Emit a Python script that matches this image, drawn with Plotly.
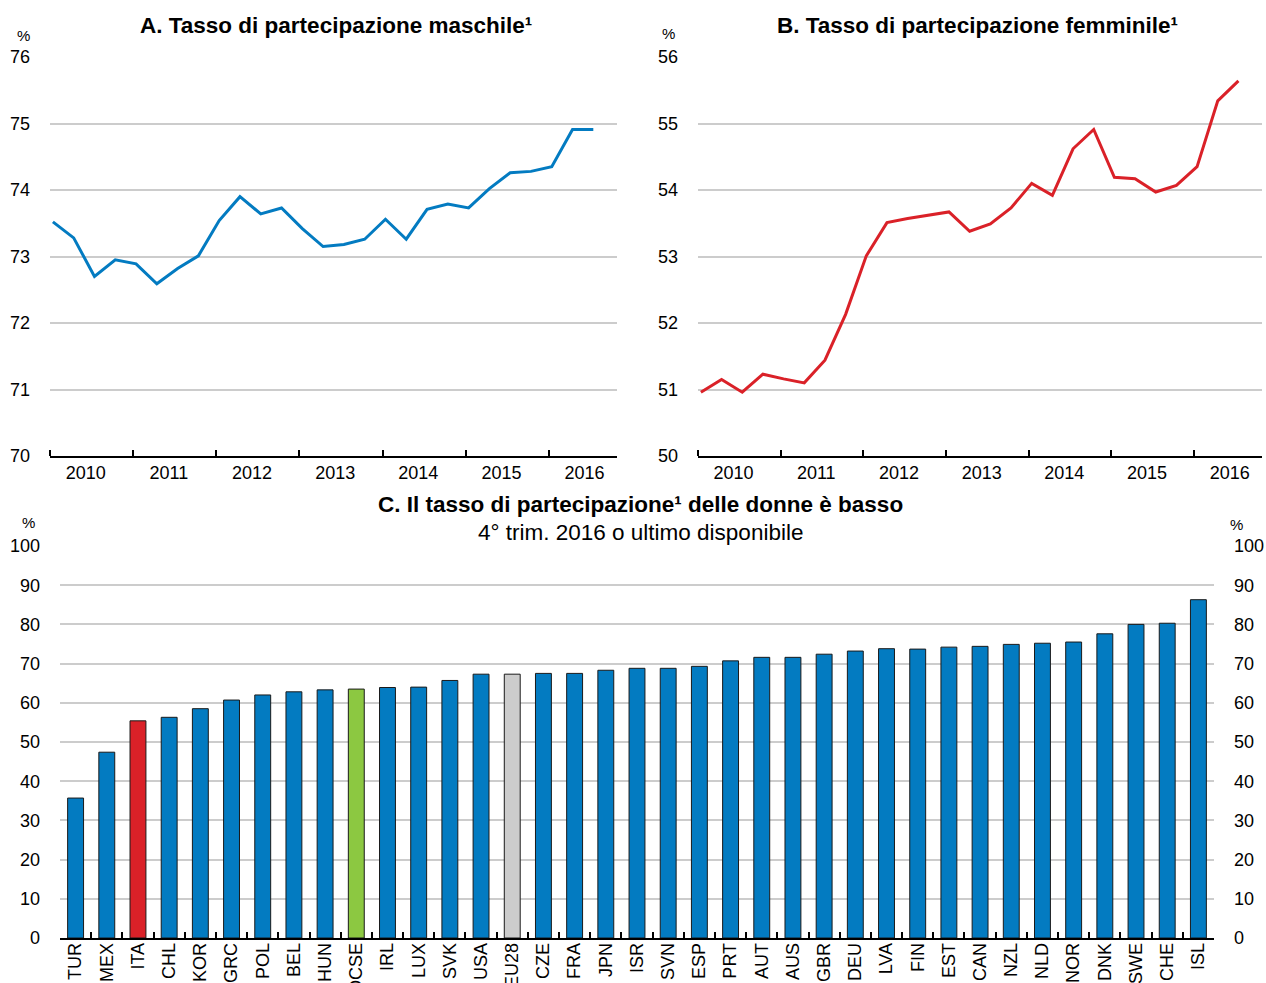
import plotly.graph_objects as go

W, H = 1266, 983
FONT = "Liberation Sans, Arial, sans-serif"

# ---------------- data ----------------
years = [2010, 2011, 2012, 2013, 2014, 2015, 2016]
quarters = [(y, q) for y in years for q in (1, 2, 3, 4)][:27]  # 2010Q1 .. 2016Q3

male_rate = [73.52, 73.28, 72.70, 72.95, 72.89, 72.59, 72.82, 73.01,
             73.54, 73.90, 73.64, 73.73, 73.42, 73.15, 73.18, 73.26,
             73.56, 73.26, 73.71, 73.79, 73.73, 74.02, 74.26, 74.28,
             74.35, 74.91, 74.91]

female_rate = [50.96, 51.15, 50.96, 51.23, 51.16, 51.10, 51.44, 52.13,
               53.01, 53.51, 53.57, 53.62, 53.67, 53.38, 53.49, 53.73,
               54.10, 53.92, 54.62, 54.91, 54.19, 54.17, 53.97, 54.07,
               54.35, 55.34, 55.64]

countries = ["TUR", "MEX", "ITA", "CHL", "KOR", "GRC", "POL", "BEL", "HUN", "OCSE",
             "IRL", "LUX", "SVK", "USA", "EU28", "CZE", "FRA", "JPN", "ISR", "SVN",
             "ESP", "PRT", "AUT", "AUS", "GBR", "DEU", "LVA", "FIN", "EST", "CAN",
             "NZL", "NLD", "NOR", "DNK", "SWE", "CHE", "ISL"]
women_rate = [35.7, 47.4, 55.4, 56.3, 58.5, 60.7, 62.0, 62.8, 63.3, 63.5,
              63.9, 64.0, 65.7, 67.3, 67.3, 67.5, 67.5, 68.3, 68.8, 68.8,
              69.3, 70.7, 71.6, 71.6, 72.4, 73.2, 73.8, 73.7, 74.2, 74.4,
              74.9, 75.2, 75.5, 77.6, 80.0, 80.3, 86.3]

BLUE = "#037BC1"
RED = "#DA2128"
GREEN = "#8CC841"
GREY = "#CCCCCC"
GRID = "#CCCCCC"

# x position of each quarter in year units (plotted slightly after quarter start)
xq = [y + (q - 1) / 4 + 0.035 for (y, q) in quarters]

bar_colors = [RED if c == "ITA" else GREEN if c == "OCSE" else GREY if c == "EU28" else BLUE
              for c in countries]


def px_x(p):
    return p / W


def px_y(p):
    return 1 - p / H


fig = go.Figure()

fig.add_trace(go.Scatter(x=xq, y=male_rate, mode="lines",
                         line=dict(color=BLUE, width=3), xaxis="x", yaxis="y",
                         showlegend=False, hoverinfo="skip"))
fig.add_trace(go.Scatter(x=xq, y=female_rate, mode="lines",
                         line=dict(color=RED, width=3), xaxis="x2", yaxis="y2",
                         showlegend=False, hoverinfo="skip"))
fig.add_trace(go.Bar(x=countries, y=women_rate, marker=dict(color=bar_colors,
                     line=dict(color="#1a1a1a", width=1)), width=0.51,
                     xaxis="x3", yaxis="y3", showlegend=False))
# invisible companion trace so the right-hand value axis is drawn
fig.add_trace(go.Scatter(x=countries, y=women_rate, mode="markers",
                         marker=dict(opacity=0), xaxis="x3", yaxis="y4",
                         showlegend=False, hoverinfo="skip"))

year_axis = dict(
    range=[2010, 2016.82],
    tickmode="array",
    tickvals=[y + 0.43 for y in years],
    ticktext=[str(y) for y in years],
    ticks="",
    showgrid=False,
    zeroline=False,
    showline=True,
    linecolor="black",
    linewidth=1.5,
    tickfont=dict(size=18, color="black"),
    minor=dict(tickmode="array", tickvals=years, ticks="inside", ticklen=6,
               tickcolor="black", tickwidth=1.5, showgrid=False),
    automargin=False,
)

def val_axis(rng, dtick, **kw):
    d = dict(range=rng, dtick=dtick, tick0=rng[0], showgrid=True, gridcolor=GRID,
             gridwidth=1.5, zeroline=False, showline=False, ticks="",
             tickfont=dict(size=18, color="black"), ticklabelstandoff=19,
             automargin=False)
    d.update(kw)
    return d

fig.update_layout(
    width=W, height=H,
    margin=dict(l=0, r=0, t=0, b=0),
    paper_bgcolor="white", plot_bgcolor="white",
    font=dict(family=FONT, color="black"),
    xaxis=dict(domain=[px_x(50), px_x(617)], anchor="y", **year_axis),
    yaxis=val_axis([70, 76], 1, domain=[px_y(456), px_y(57)], anchor="x"),
    xaxis2=dict(domain=[px_x(698), px_x(1262)], anchor="y2", **year_axis),
    yaxis2=val_axis([50, 56], 1, domain=[px_y(456), px_y(57)], anchor="x2"),
    xaxis3=dict(domain=[px_x(60), px_x(1214)], anchor="y3", type="category",
                range=[-0.5, 36.5], tickson="boundaries", ticks="inside",
                ticklen=6, tickcolor="black", tickwidth=1.5, showline=True,
                linecolor="black", linewidth=1.5, tickangle=-90,
                ticklabelstandoff=-4,
                tickfont=dict(size=18, color="black"), automargin=False,
                showgrid=False),
    yaxis3=val_axis([0, 100], 10, domain=[px_y(938), px_y(546)], anchor="x3"),
    yaxis4=val_axis([0, 100], 10, domain=[px_y(938), px_y(546)], anchor="x3",
                    overlaying="y3", side="right", showgrid=False),
)

annots = [
    dict(text="<b>A. Tasso di partecipazione maschile¹</b>", x=px_x(336), y=px_y(26), size=22.5),
    dict(text="<b>B. Tasso di partecipazione femminile¹</b>", x=px_x(977), y=px_y(26), size=22.5),
    dict(text="<b>C. Il tasso di partecipazione¹ delle donne è basso</b>", x=px_x(640), y=px_y(505), size=22.5),
    dict(text="4° trim. 2016 o ultimo disponibile", x=px_x(640), y=px_y(532), size=22.5),
    dict(text="%", x=px_x(23), y=px_y(35), size=15),
    dict(text="%", x=px_x(668), y=px_y(34), size=15),
    dict(text="%", x=px_x(28), y=px_y(522), size=15),
    dict(text="%", x=px_x(1236), y=px_y(524), size=15),
]
for a in annots:
    fig.add_annotation(text=a["text"], x=a["x"], y=a["y"], xref="paper", yref="paper",
                       xanchor="center", yanchor="middle", showarrow=False,
                       font=dict(size=a["size"], color="black", family=FONT))

fig.write_html("out.html", config={"displayModeBar": False},
               post_script="document.body.style.margin='0';document.body.style.overflow='hidden';")
